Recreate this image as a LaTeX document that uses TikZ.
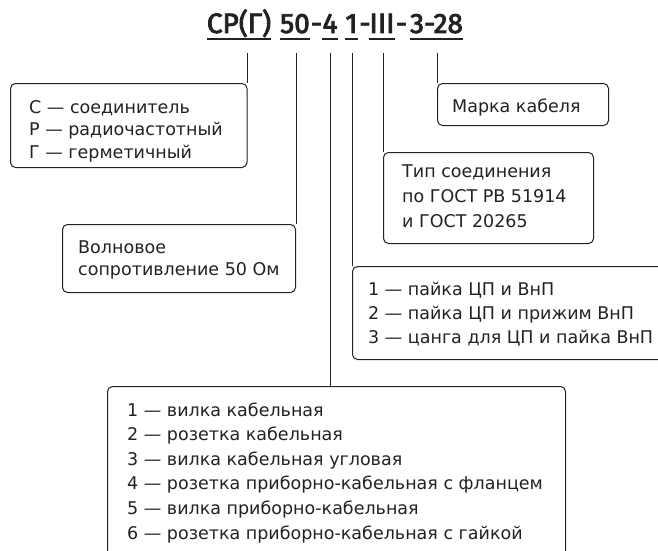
\documentclass[tikz,border=0pt]{standalone}
\usepackage{fontspec}
\setmainfont{DejaVu Sans}
\newfontfamily\titlefont{Fira Sans}[FakeBold=3]
\usetikzlibrary{calc}
\definecolor{ink}{RGB}{34,34,34}
\begin{document}
\begin{tikzpicture}[x=1pt,y=-1pt,
 box/.style={draw=ink,line width=1pt,rounded corners=5pt,inner sep=0pt,anchor=north west},
 txt/.style={anchor=base west,inner sep=0pt,text=ink,font=\fontsize{17.5}{#1}\selectfont},
 seg/.style={anchor=base,inner sep=0pt,text=ink,font=\titlefont\fontsize{28}{30}\selectfont},
 uline/.style={draw=ink,line width=1.8pt},
 conn/.style={draw=ink,line width=1pt}]
\useasboundingbox (0,0) rectangle (658,551);
\fill[white] (0,0) rectangle (658,551);
\clip (0,0) rectangle (658,551);
% title
\node[seg] (sA) at (239,33) {СР(Г)};
\node[seg] (sB) at (295,33) {50};
\node[seg] (h1) at (316.5,33) {-};
\node[seg] (sC) at (330,33) {4};
\node[seg] (sD) at (351.5,33) {1};
\node[seg] (h2) at (365,33) {-};
\node[seg] (sE) at (382,33) {III};
\node[seg] (h3) at (401.5,33) {-};
\node[seg] (sF) at (436.5,33) {3-28};
\foreach \s in {sA,sB,sC,sD,sE,sF}
  \draw[uline] ($(\s.base west)+(0,6)$) -- ($(\s.base east)+(0,6)$);
% boxes
\node[box,minimum width=236.5pt,minimum height=84pt] (b1) at (10,83) {};
\node[box,minimum width=233pt,minimum height=68pt] (b2) at (62,224) {};
\node[box,minimum width=458pt,minimum height=185pt] (b6) at (107,386) {};
\node[box,minimum width=320pt,minimum height=93pt] (b3) at (352,266) {};
\node[box,minimum width=210pt,minimum height=91pt] (b4) at (383,152) {};
\node[box,minimum width=171pt,minimum height=42pt] (b5) at (437,83) {};
% texts
\node[txt=22.5] (t1) at (29,113) {\vtop{\hbox{С — соединитель}\hbox{Р — радиочастотный}\hbox{Г — герметичный}}};
\node[txt=22] (t2) at (78,253) {\vtop{\hbox{Волновое}\hbox{сопротивление 50 Ом}}};
\node[txt=24] (t3) at (368,295) {\vtop{\hbox{1 — пайка ЦП и ВнП}\hbox{2 — пайка ЦП и прижим ВнП}\hbox{3 — цанга для ЦП и пайка ВнП}}};
\node[txt=25] (t4) at (402,177) {\vtop{\hbox{Тип соединения}\hbox{по ГОСТ РВ 51914}\hbox{и ГОСТ 20265}}};
\node[txt=20] (t5) at (452,112) {Марка кабеля};
\node[txt=24.6] (t6) at (127,416) {\vtop{\hbox{1 — вилка кабельная}\hbox{2 — розетка кабельная}\hbox{3 — вилка кабельная угловая}\hbox{4 — розетка приборно-кабельная с фланцем}\hbox{5 — вилка приборно-кабельная}\hbox{6 — розетка приборно-кабельная с гайкой}}};
% connectors
\foreach \s in {sA,sB,sC,sD,sE,sF} \coordinate (c\s) at ($(\s.base)+(0,20)$);
\draw[conn] (csA -| b1.north east) -- (b1.north east);
\draw[conn] (csB -| b2.north east) -- (b2.north east);
\draw[conn] (csC) -- (csC |- b6.north);
\draw[conn] (csD -| b3.north west) -- (b3.north west);
\draw[conn] (csE -| b4.north west) -- (b4.north west);
\draw[conn] (csF -| b5.north west) -- (b5.north west);
\end{tikzpicture}
\end{document}
